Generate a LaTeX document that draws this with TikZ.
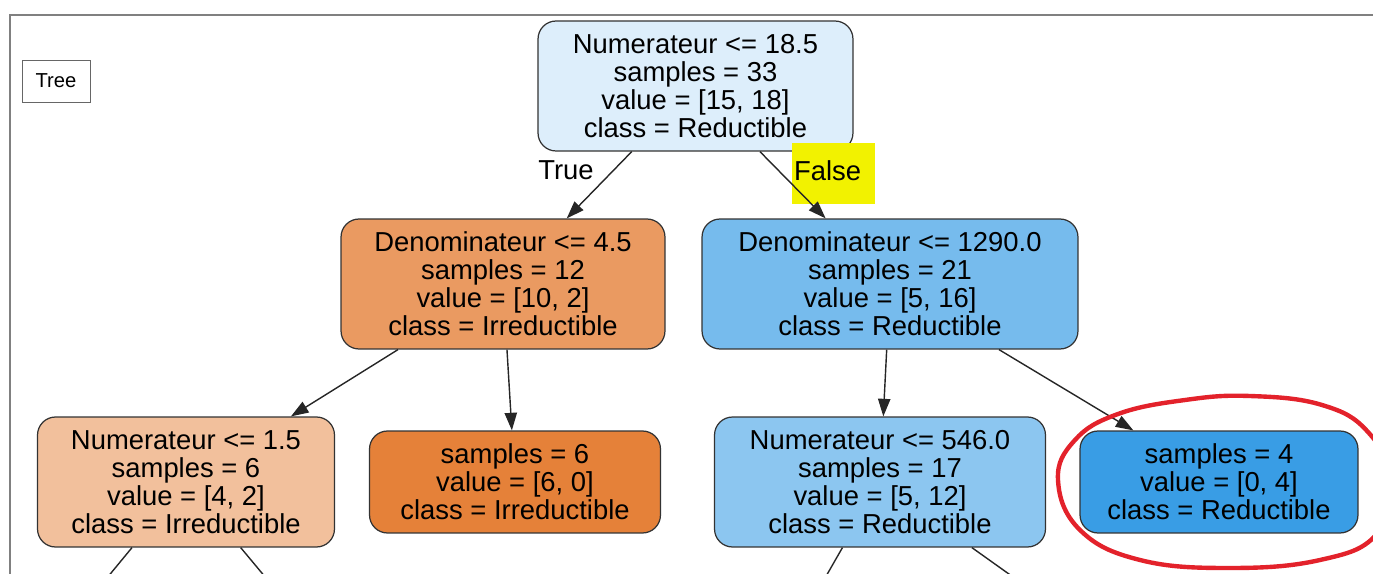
\documentclass[tikz,border=0pt]{standalone}
\usepackage{fontspec}
\setmainfont{Liberation Sans}
\usepackage{tikz}
\usetikzlibrary{arrows.meta}
\usetikzlibrary{positioning}

\definecolor{irred}{HTML}{E58139}
\definecolor{reduc}{HTML}{399DE5}
\definecolor{circled}{HTML}{E3222B}
\definecolor{winframe}{HTML}{808080}
\definecolor{hilite}{HTML}{F2F200}

\begin{document}
\begin{tikzpicture}[x=0.02cm, y=-0.02cm,
    box/.style={draw=black!80, line width=0.7pt, rounded corners=0.36cm, align=center,
      minimum height=2.6cm, inner sep=0pt, font=\fontsize{15.6}{15.9}\selectfont},
    leaf/.style={box, minimum height=2.04cm},
    branch/.style={-{Triangle[length=10pt,width=7pt]}, line width=0.8pt, black!85}]
  \useasboundingbox (0,0) rectangle (1373,574);
  \clip (0,0) rectangle (1373,574);
  % window frame
  \draw[winframe, line width=1.4pt] (10,574) -- (10,15) -- (1373,15);
  \node[draw=black!60, line width=0.5pt, minimum width=1.36cm, minimum height=0.84cm,
    font=\fontsize{11.5}{13}\selectfont] (tree) at (56,81) {Tree};

  \node[box, fill=reduc!17, minimum width=6.3cm] (root) at (695.5,86)
    {Numerateur <= 18.5\\samples = 33\\value = [15, 18]\\class = Reductible};
  \node[box, fill=irred!80, minimum width=6.48cm] (L) at (503,284)
    {Denominateur <= 4.5\\samples = 12\\value = [10, 2]\\class = Irreductible};
  \node[box, fill=reduc!69, minimum width=7.52cm] (R) at (890,284)
    {Denominateur <= 1290.0\\samples = 21\\value = [5, 16]\\class = Reductible};
  \node[box, fill=irred!50, minimum width=5.94cm] (LL) at (186,482)
    {Numerateur <= 1.5\\samples = 6\\value = [4, 2]\\class = Irreductible};
  \node[leaf, fill=irred, minimum width=5.82cm] (LR) at (515,482)
    {samples = 6\\value = [6, 0]\\class = Irreductible};
  \node[box, fill=reduc!58, minimum width=6.62cm] (RL) at (880,482)
    {Numerateur <= 546.0\\samples = 17\\value = [5, 12]\\class = Reductible};
  \node[leaf, fill=reduc, minimum width=5.56cm] (RR) at (1219,482)
    {samples = 4\\value = [0, 4]\\class = Reductible};

  % children below the visible part
  \coordinate (LLa) at (22,681);
  \coordinate (LLb) at (352,681);
  \coordinate (RLa) at (766,681);
  \coordinate (RLb) at (1159,681);

  \node[font=\fontsize{15.6}{15.9}\selectfont] (truelbl) at (566,170) {True};
  \node[fill=hilite, text width=1.58cm, inner xsep=0.04cm, minimum height=1.22cm, align=left,
    text depth=0.1cm, font=\fontsize{15.6}{15.9}\selectfont] (falselbl) at (833.5,173.5) {False};

  \path[branch] (root) edge (L);
  \path[branch] (root) edge (R);
  \path[branch] (L) edge (LL);
  \path[branch] (L) edge (LR);
  \path[branch] (R) edge (RL);
  \path[branch] (R) edge (RR);
  \path[branch] (LL) edge (LLa);
  \path[branch] (LL) edge (LLb);
  \path[branch] (RL) edge (RLa);
  \path[branch] (RL) edge (RLb);

  % hand drawn mark
  \draw[circled, line width=2.5pt] plot[smooth cycle, tension=0.7] coordinates
    {(1058,480) (1075,440) (1118,414) (1185,400) (1250,396) (1322,405) (1368,432)
     (1392,482) (1376,535) (1320,560) (1230,568) (1140,560) (1080,530)};
\end{tikzpicture}
\end{document}
